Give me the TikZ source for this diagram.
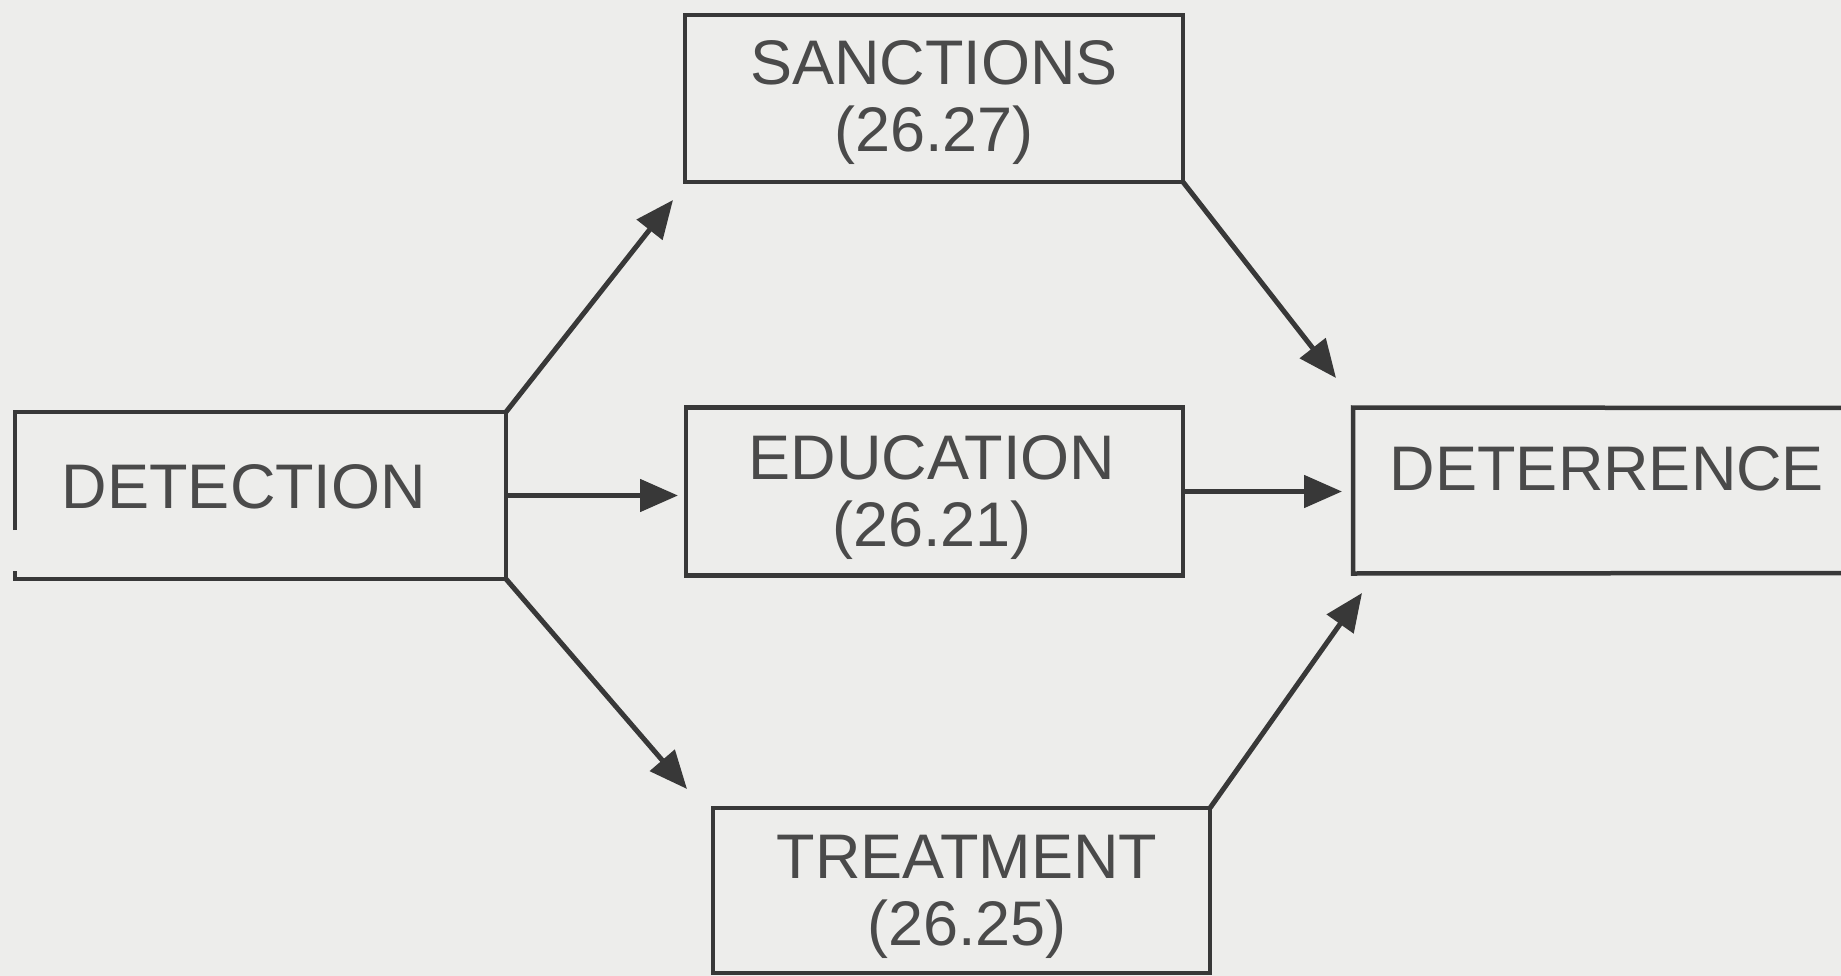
\documentclass[tikz,border=0pt]{standalone}
\usepackage{fontspec}
\setmainfont{Liberation Sans}
\usetikzlibrary{arrows.meta}
\definecolor{paper}{HTML}{EDEDEB}
\definecolor{ink}{HTML}{383838}
\definecolor{txt}{HTML}{4A4A4A}
\tikzset{
  boxshape/.style={rectangle, draw=ink, line width=4.5pt, inner sep=0pt, outer sep=0pt},
  edge/.style={draw=ink, line width=4.5pt},
  lbl/.style={text=txt, font=\fontsize{63}{67}\selectfont, inner sep=0pt, anchor=base, align=center},
  arr/.style={draw=ink, line width=5pt, -{Triangle[length=38pt,width=32pt]}}
}
\begin{document}
\begin{tikzpicture}[x=1pt,y=-1pt]
  \fill[paper] (0,0) rectangle (1841,976);
  \useasboundingbox (0,0) rectangle (1841,976);

  % boxes
  \node[boxshape, minimum width=498pt, minimum height=167pt] (san) at (934,98.5) {};
  \node[boxshape, minimum width=497pt, minimum height=168pt] (edu) at (934.5,491.5) {};
  \node[boxshape, minimum width=497pt, minimum height=165pt] (tre) at (961.5,890.5) {};
  \node[minimum width=491pt, minimum height=167pt, inner sep=0pt, outer sep=0pt] (det) at (260.5,495.5) {};
  \node[minimum width=500pt, minimum height=166pt, inner sep=0pt, outer sep=0pt] (ter) at (1603,490.5) {};

  % detection box: left side broken near the bottom
  \draw[edge] (det.west |- 0,530) -- (det.north west) -- (det.north east)
    -- (det.south east) -- (det.south west) -- (det.west |- 0,571);
  % deterrence box: runs off the right edge
  \draw[edge] (1860,408) -- (ter.north west) -- (ter.south west) -- (1860,573);

  % labels (base anchor sits on the last line)
  \node[lbl] (detl) at (244,508) {DETECTION};
  \node[lbl] (sanl) at (934,152) {SANCTIONS\\(26.27)};
  \node[lbl] (edul) at (932,546) {EDUCATION\\(26.21)};
  \node[lbl] (trel) at (967,945) {TREATMENT\\(26.25)};
  \node[lbl] (terl) at (1607,490) {DETERRENCE};

  % arrow tips
  \coordinate (t1) at (673,200);
  \coordinate (t2) at (678,495.5);
  \coordinate (t3) at (687,789);
  \coordinate (t4) at (1336,378);
  \coordinate (t5) at (1342,491.5);
  \coordinate (t6) at (1362,593);

  % connectors
  \draw[arr] (det.north east) -- (t1);
  \draw[arr] (det.east) -- (t2);
  \draw[arr] (det.south east) -- (t3);
  \draw[arr] (san.south east) -- (t4);
  \draw[arr] (edu.east) -- (t5);
  \draw[arr] (tre.north east) -- (t6);
\end{tikzpicture}
\end{document}
